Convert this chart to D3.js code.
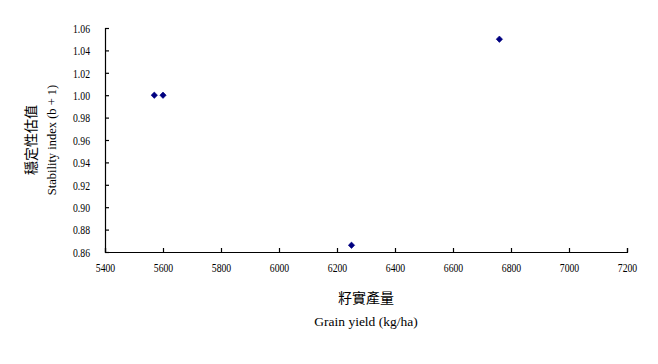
<!DOCTYPE html>
<html><head><meta charset="utf-8">
<script src="https://cdn.jsdelivr.net/npm/d3@7"></script>
<style>body{margin:0;background:#fff}svg{display:block}</style>
</head><body>
<svg id="c" width="658" height="364"></svg>
<script>
const yieldValues = [5570, 5600, 6250, 6760];
const stabilityValues = [1.00, 1.00, 0.866, 1.05];
const xTicks = [5400,5600,5800,6000,6200,6400,6600,6800,7000,7200];
const yTicks = [0.86,0.88,0.90,0.92,0.94,0.96,0.98,1.00,1.02,1.04,1.06];
const xTitleZh = "籽實產量", xTitleEn = "Grain yield (kg/ha)";
const yTitleZh = "穩定性估值", yTitleEn = "Stability index (b + 1)";

const svg = d3.select("#c");
const m = {l:105, r:627, t:28, b:252};
const x = d3.scaleLinear().domain([5400,7200]).range([m.l,m.r]);
const y = d3.scaleLinear().domain([0.86,1.06]).range([m.b,m.t]);
const serif = "'Liberation Serif','Times New Roman',serif";
const cjk = "'Noto Sans CJK TC','Noto Sans CJK SC',sans-serif";

const gx = svg.append("g").attr("transform",`translate(0,${m.b})`)
  .call(d3.axisBottom(x).tickValues(xTicks).tickFormat(d3.format("d")).tickSize(-4).tickPadding(10));
const gy = svg.append("g").attr("transform",`translate(${m.l},0)`)
  .call(d3.axisLeft(y).tickValues(yTicks).tickFormat(d3.format(".2f")).tickSize(-4).tickPadding(15));
[gx,gy].forEach(g=>{
  g.select(".domain").attr("stroke","#000").attr("stroke-width",1.2);
  g.selectAll(".tick line").attr("stroke","#000").attr("stroke-width",1.2);
  g.selectAll(".tick text").attr("fill","#000").style("font-family",serif).style("font-size","13.5px")
   .each(function(){const L=this.getComputedTextLength();d3.select(this).attr("textLength",L*0.72).attr("lengthAdjust","spacingAndGlyphs");});
});
gx.selectAll(".tick text").attr("dy","0.71em");

svg.append("g").selectAll("path").data(yieldValues).join("path")
  .attr("transform",(d,i)=>`translate(${x(d)},${y(stabilityValues[i])})`)
  .attr("d",d3.symbol(d3.symbolDiamond2,26)())
  .attr("fill","#000080").attr("stroke","#000080").attr("stroke-width",0.6);

const cx = (m.l+m.r)/2, cy=(m.t+m.b)/2;
svg.append("text").attr("x",cx).attr("y",303).attr("text-anchor","middle")
  .style("font-family",cjk).style("font-size","14px").text(xTitleZh);
svg.append("text").attr("x",cx).attr("y",326).attr("text-anchor","middle")
  .style("font-family",serif).style("font-size","13.5px").text(xTitleEn);
svg.append("text").attr("transform",`translate(36,${cy}) rotate(-90)`).attr("text-anchor","middle")
  .style("font-family",cjk).style("font-size","14px").text(yTitleZh);
svg.append("text").attr("transform",`translate(56,${cy}) rotate(-90)`).attr("text-anchor","middle")
  .style("font-family",serif).style("font-size","12.5px").text(yTitleEn);
</script>
</body></html>
